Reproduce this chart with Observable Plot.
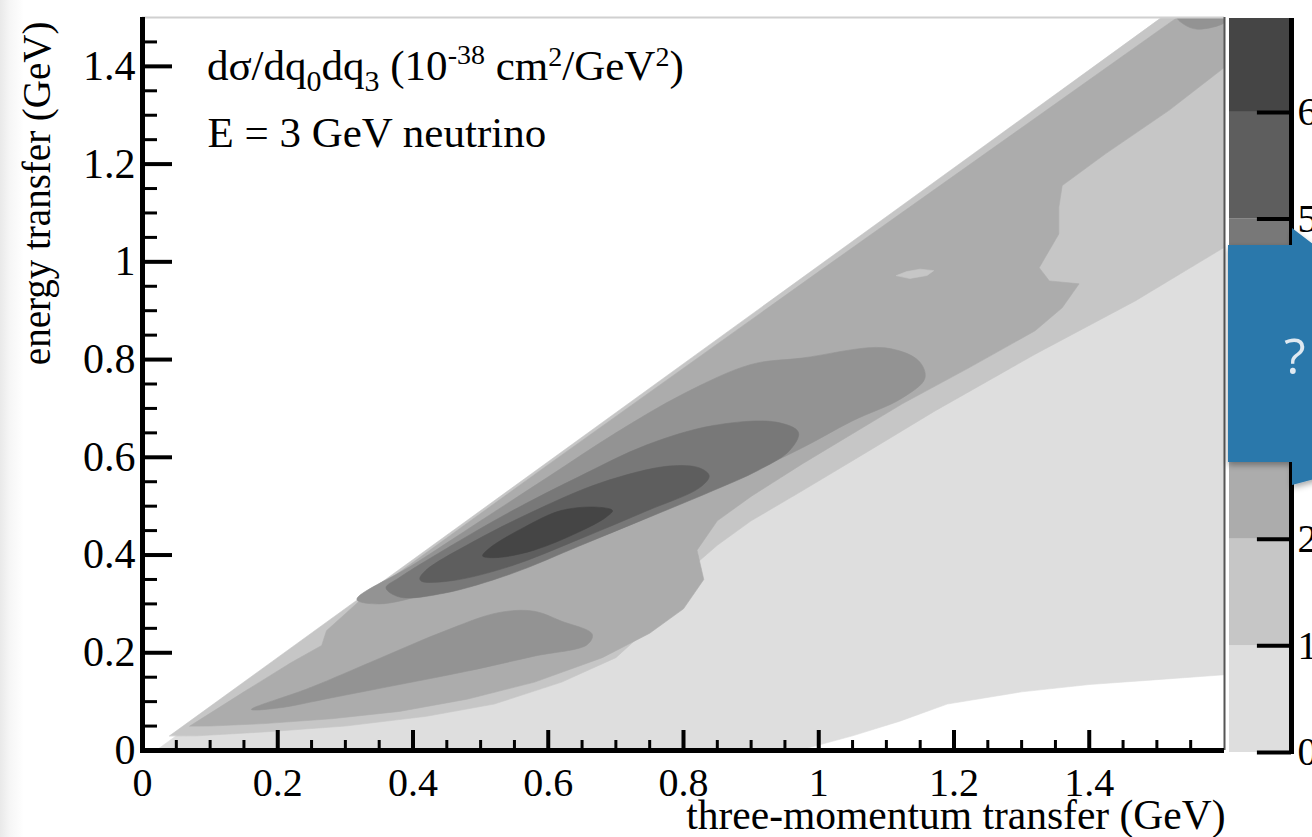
<!DOCTYPE html>
<html><head><meta charset="utf-8">
<script src="https://cdn.jsdelivr.net/npm/d3@7"></script>
<script src="https://cdn.jsdelivr.net/npm/@observablehq/plot@0.6"></script>
<style>
html,body{margin:0;padding:0;background:#fff;overflow:hidden}
#wrap{position:relative;width:1312px;height:837px;font-family:"Liberation Serif","DejaVu Serif",serif;
  background:linear-gradient(to right,#e9e9e9 0px,#f6f6f6 10px,#ffffff 24px)}
#wrap svg{position:absolute;top:0;left:0;overflow:hidden}
</style></head><body><div id="wrap"></div>
<script>
// ---- contour levels (colour bar) ----
const levelValues = [0, 1, 2, 3, 4, 5, 6];
const levelTops   = [1, 2, 3, 4, 5, 6, 6.88];
const levelGrays  = ["#dedede", "#c6c6c6", "#acacac", "#939393", "#787878", "#5e5e5e", "#454545"];
const cbTicks  = [0, 1, 2, 3, 4, 5, 6];
const cbLabels = ["0", "1", "2", "3", "4", "5", "6"];

// ---- axis ticks ----
const xMajor = [0, 0.2, 0.4, 0.6, 0.8, 1, 1.2, 1.4];
const xMajorLabels = ["0", "0.2", "0.4", "0.6", "0.8", "1", "1.2", "1.4"];
const xMinor = [0.05, 0.1, 0.15, 0.25, 0.3, 0.35, 0.45, 0.5, 0.55, 0.65, 0.7, 0.75, 0.85, 0.9, 0.95, 1.05, 1.1, 1.15, 1.25, 1.3, 1.35, 1.45, 1.5, 1.55];
const yMajor = [0, 0.2, 0.4, 0.6, 0.8, 1, 1.2, 1.4];
const yMajorLabels = ["0", "0.2", "0.4", "0.6", "0.8", "1", "1.2", "1.4"];
const yMinor = [0.05, 0.1, 0.15, 0.25, 0.3, 0.35, 0.45, 0.5, 0.55, 0.65, 0.7, 0.75, 0.85, 0.9, 0.95, 1.05, 1.1, 1.15, 1.25, 1.3, 1.35, 1.45];

// ---- contour regions [q3, q0] (region where dsigma >= level) ----
const band0 = [[0.02,0.0],[1.507,1.5],[1.6,1.5],[1.6,0.155],[1.5,0.145],[1.4,0.135],[1.3,0.12],[1.19,0.095],[1.12,0.06],[1.05,0.03],[0.97,0.0]];
const band1 = [[0.04,0.03],[1.507,1.5],[1.6,1.5],[1.6,1.03],[1.468,0.92],[1.32,0.811],[1.172,0.695],[1.074,0.613],[0.975,0.531],[0.9,0.47],[0.85,0.42],[0.8,0.36],[0.77,0.3],[0.74,0.24],[0.7,0.19],[0.62,0.14],[0.52,0.095],[0.42,0.07],[0.3,0.05],[0.18,0.038],[0.08,0.03]];
const band2 = [[0.07,0.05],[0.15,0.12],[0.22,0.18],[0.265,0.215],[0.272,0.245],[0.3,0.28],[0.32,0.305],[0.6,0.585],[1.0,0.98],[1.53,1.5],[1.6,1.5],[1.6,1.398],[1.518,1.31],[1.424,1.221],[1.36,1.156],[1.355,1.111],[1.355,1.057],[1.326,0.988],[1.341,0.961],[1.385,0.955],[1.36,0.906],[1.32,0.859],[1.222,0.783],[1.123,0.709],[0.975,0.586],[0.9,0.52],[0.85,0.47],[0.82,0.41],[0.83,0.35],[0.8,0.29],[0.75,0.24],[0.68,0.19],[0.58,0.14],[0.48,0.105],[0.38,0.08],[0.28,0.065],[0.18,0.055],[0.1,0.05]];
const island1 = [[1.115,0.972],[1.13,0.98],[1.15,0.985],[1.17,0.982],[1.16,0.972],[1.135,0.966]];
const band3a = [[0.317,0.309],[0.4,0.38],[0.5,0.47],[0.6,0.56],[0.7,0.65],[0.8,0.73],[0.9,0.79],[0.975,0.803],[1.098,0.824],[1.148,0.797],[1.157,0.762],[1.123,0.721],[1.049,0.674],[0.975,0.619],[0.9,0.57],[0.8,0.51],[0.7,0.45],[0.6,0.4],[0.5,0.355],[0.42,0.32],[0.35,0.3]];
const band3b = [[0.161,0.084],[0.247,0.128],[0.353,0.19],[0.446,0.244],[0.526,0.282],[0.579,0.285],[0.619,0.265],[0.665,0.238],[0.658,0.217],[0.579,0.193],[0.479,0.162],[0.38,0.135],[0.28,0.108],[0.201,0.087]];
const band3c = [[1.53,1.5],[1.6,1.5],[1.6,1.49],[1.56,1.476],[1.54,1.486]];
const band4 = [[0.36,0.333],[0.38,0.354],[0.46,0.422],[0.546,0.49],[0.645,0.56],[0.745,0.625],[0.844,0.665],[0.937,0.672],[0.97,0.651],[0.957,0.614],[0.91,0.573],[0.844,0.532],[0.745,0.475],[0.645,0.418],[0.546,0.362],[0.446,0.322],[0.38,0.314]];
const band5 = [[0.41,0.352],[0.42,0.37],[0.486,0.425],[0.579,0.49],[0.678,0.548],[0.778,0.582],[0.824,0.578],[0.838,0.562],[0.824,0.538],[0.745,0.49],[0.645,0.432],[0.546,0.378],[0.46,0.348],[0.413,0.346]];
const band6 = [[0.503,0.398],[0.526,0.395],[0.579,0.41],[0.645,0.447],[0.685,0.477],[0.695,0.491],[0.672,0.498],[0.619,0.491],[0.566,0.458],[0.513,0.414]];

function rows(pieces) {
  const out = [];
  pieces.forEach(([name, level, pts]) => pts.forEach(([q3, q0]) => out.push({piece: name, level, q3, q0})));
  return out;
}
const outerRows = rows([["b0",0,band0],["b1",1,band1],["b2",2,band2],["i1",1,island1]]);
const innerRows = rows([["b3a",3,band3a],["b3b",3,band3b],["b3c",3,band3c],["b4",4,band4],["b5",5,band5],["b6",6,band6]]);

const W = 1312, H = 837;
const colorScale = {type: "ordinal", domain: levelValues, range: levelGrays};
const serif = "Liberation Serif";

const main = Plot.plot({
  width: W, height: H,
  marginLeft: 142, marginRight: 88, marginTop: 17, marginBottom: 87,
  x: {domain: [0, 1.6], axis: null},
  y: {domain: [0, 1.5], axis: null},
  color: colorScale,
  style: {fontFamily: serif, background: "transparent", overflow: "visible"},
  marks: [
    Plot.line(outerRows, {x: "q3", y: "q0", z: "piece", fill: "level", stroke: "level", strokeWidth: 0.6, curve: "linear-closed", clip: true}),
    Plot.line(innerRows, {x: "q3", y: "q0", z: "piece", fill: "level", stroke: "level", strokeWidth: 0.6, curve: "catmull-rom-closed", clip: true}),
    Plot.ruleY([1.5], {stroke: "#d0d0d0", strokeWidth: 2}),
    Plot.ruleX([1.6], {stroke: "#555", strokeWidth: 2}),
    Plot.ruleX(xMajor, {x: d => d, insetTop: 713, stroke: "black", strokeWidth: 4}),
    Plot.ruleX(xMinor, {x: d => d, insetTop: 723, stroke: "black", strokeWidth: 3}),
    Plot.ruleY(yMajor, {y: d => d, insetRight: 1052, stroke: "black", strokeWidth: 4}),
    Plot.ruleY(yMinor, {y: d => d, insetRight: 1067, stroke: "black", strokeWidth: 3}),
    Plot.ruleX([0], {stroke: "black", strokeWidth: 5, insetBottom: -2}),
    Plot.ruleY([0], {stroke: "black", strokeWidth: 5, insetLeft: -2}),
    Plot.text(xMajor, {x: d => d, frameAnchor: "bottom", text: (d, i) => xMajorLabels[i], lineAnchor: "top", dy: 17, fontSize: 40, fill: "black"}),
    Plot.text(yMajor, {y: d => d, frameAnchor: "left", text: (d, i) => yMajorLabels[i], textAnchor: "end", dx: -7, fontSize: 42, fill: "black"}),
    Plot.text(["three-momentum transfer (GeV)"], {frameAnchor: "bottom-right", textAnchor: "end", lineAnchor: "bottom", dy: 78, dx: 1, fontSize: 41.5, fill: "black"}),
    Plot.text(["energy transfer (GeV)"], {frameAnchor: "top-left", rotate: -90, textAnchor: "end", dx: -120, dy: 4, fontSize: 39, fill: "black"}),
    Plot.text(["E = 3 GeV neutrino"], {x: 0.096, y: 1.234, textAnchor: "start", lineAnchor: "bottom", fontSize: 43, fill: "black"})
  ]
});
document.getElementById("wrap").appendChild(main);

// first annotation line with sub/superscripts
{
  const sx = main.scale("x"), sy = main.scale("y");
  const t = d3.select(main).append("text")
    .attr("x", sx.apply(0.096)).attr("y", sy.apply(1.371))
    .attr("text-anchor", "start")
    .attr("font-family", serif).attr("font-size", 43).attr("fill", "black");
  const parts = [
    ["dσ/dq", 0, 43], ["0", 11, 30], ["dq", -11, 43], ["3", 11, 30], [" (10", -11, 43],
    ["-38", -16, 28], [" cm", 16, 43], ["2", -14, 28], ["/GeV", 14, 43], ["2", -14, 28], [")", 14, 43]
  ];
  parts.forEach(([s, dy, fs]) => t.append("tspan").attr("dy", dy).attr("font-size", fs).text(s));
}

// colour bar
const cb = Plot.plot({
  width: 83, height: H,
  marginLeft: 0, marginRight: 21, marginTop: 18, marginBottom: H - 752,
  x: {domain: [0, 1], axis: null},
  y: {domain: [0, 6.88], axis: null},
  color: colorScale,
  style: {fontFamily: serif, background: "transparent"},
  marks: [
    Plot.rect(levelValues, {x1: 0, x2: 1, y1: d => d, y2: (d, i) => levelTops[i], fill: d => d}),
    Plot.ruleX([1], {stroke: "black", strokeWidth: 5, insetBottom: -2}),
    Plot.ruleY(cbTicks, {y: d => d, x1: 0.45, x2: 1, stroke: "black", strokeWidth: 4}),
    Plot.text(cbTicks, {y: d => d, frameAnchor: "right", text: (d, i) => cbLabels[i], textAnchor: "start", dx: 6, fontSize: 40, fill: "black"})
  ]
});
cb.style.left = "1229px";
document.getElementById("wrap").appendChild(cb);

// speech-bubble overlay (slide callout)
{
  const ov = d3.select("#wrap").append("svg").attr("width", W).attr("height", H).style("pointer-events", "none");
  const defs = ov.append("defs");
  const f = defs.append("filter").attr("id", "sh").attr("x", "-20%").attr("y", "-20%").attr("width", "140%").attr("height", "140%");
  f.append("feDropShadow").attr("dx", 0).attr("dy", 3).attr("stdDeviation", 3).attr("flood-color", "#000").attr("flood-opacity", 0.35);
  ov.append("polygon")
    .attr("points", "1228,245 1292,245 1292,228 1322,251 1322,477 1292,485 1292,462 1228,462")
    .attr("fill", "#2c78ab").attr("filter", "url(#sh)");
  ov.append("text").attr("x", 1284).attr("y", 374).attr("font-family", "Open Sans, sans-serif")
    .attr("font-size", 50).attr("fill", "#dfe9f1").text("?");
}
</script>
</body></html>
